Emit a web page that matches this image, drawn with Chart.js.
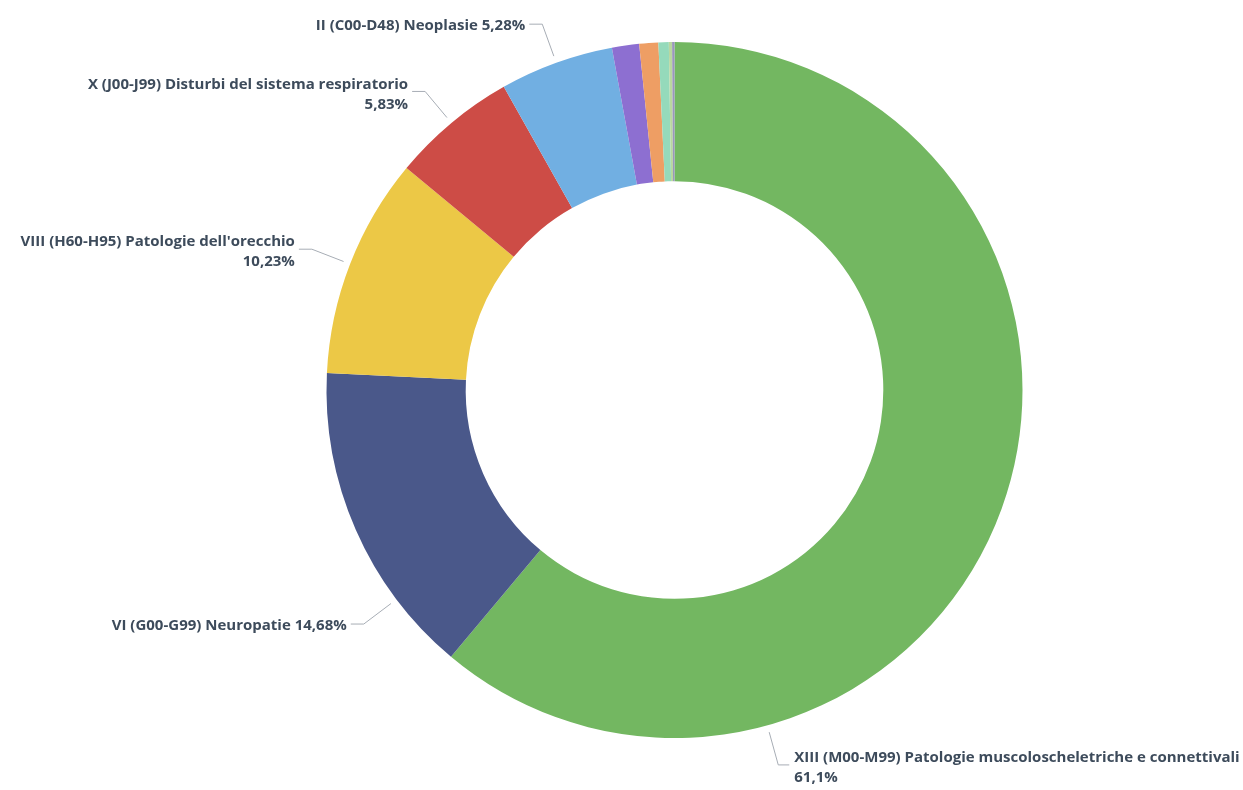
<!DOCTYPE html>
<html>
<head>
<meta charset="utf-8">
<script src="https://cdn.jsdelivr.net/npm/chart.js@4/dist/chart.umd.min.js"></script>
<style>
  html, body { margin: 0; padding: 0; background: #ffffff; }
  #wrap { width: 1243px; height: 790px; position: relative; }
</style>
</head>
<body>
<div id="wrap"><canvas id="c" width="1243" height="790"></canvas></div>
<script>
// ---- Data ----
const categories = [
  "XIII (M00-M99) Patologie muscoloscheletriche e connettivali",
  "VI (G00-G99) Neuropatie",
  "VIII (H60-H95) Patologie dell'orecchio",
  "X (J00-J99) Disturbi del sistema respiratorio",
  "II (C00-D48) Neoplasie",
  "IX (I00-I99) Malattie del sistema circolatorio",
  "XIX (S00-T98) Traumatismi",
  "V (F00-F99) Disturbi psichici",
  "XII (L00-L99) Malattie della pelle",
  "Altro"
];
const values = [61.1, 14.68, 10.23, 5.83, 5.28, 1.26, 0.88, 0.48, 0.15, 0.11];
const colors = ["#73b761", "#4a588a", "#ecc846", "#cd4c46", "#71afe2", "#8d6fd1", "#ee9e64", "#95dabb", "#b9d7a0", "#9a96bc"];
// where along each slice the leader line attaches (fraction of the slice's angle)
const labelAnchor = [0.748, 0.247, 0.5, 0.5, 0.5];

function fmtPct(v) { return String(v).replace('.', ',') + '%'; }

const leaderPlugin = {
  id: 'leaderLabels',
  afterDatasetsDraw(chart) {
    const ctx = chart.ctx;
    const arcs = chart.getDatasetMeta(0).data;
    ctx.save();
    ctx.font = '700 15px "Open Sans", "Segoe UI", sans-serif';
    arcs.forEach((arc, i) => {
      if (values[i] < 5) return;
      const p = arc.getProps(['x', 'y', 'startAngle', 'endAngle', 'outerRadius'], true);
      const f = labelAnchor[i] !== undefined ? labelAnchor[i] : 0.5;
      const a = p.startAngle + (p.endAngle - p.startAngle) * f;
      const r0 = p.outerRadius + 7, r1 = p.outerRadius + 41;
      const x0 = p.x + Math.cos(a) * r0, y0 = p.y + Math.sin(a) * r0;
      const x1 = p.x + Math.cos(a) * r1, y1 = p.y + Math.sin(a) * r1;
      const right = Math.cos(a) >= 0;
      const x2 = x1 + (right ? 11 : -13);
      ctx.strokeStyle = '#a7adb5';
      ctx.lineWidth = 1;
      ctx.beginPath();
      ctx.moveTo(x0, y0);
      ctx.lineTo(x1, y1);
      ctx.lineTo(x2, y1);
      ctx.stroke();

      const name = categories[i], pct = fmtPct(values[i]);
      const single = name + ' ' + pct;
      let lines;
      if (ctx.measureText(single).width > 300) lines = [name, pct];
      else lines = [single];
      ctx.fillStyle = '#3d4b5b';
      ctx.textBaseline = 'middle';
      ctx.textAlign = right ? 'left' : 'right';
      const tx = right ? x2 + 5 : x2 - 4;
      if (lines.length === 1) {
        ctx.fillText(lines[0], tx, y1 + 2);
      } else {
        ctx.fillText(lines[0], tx, y1 - 7);
        ctx.fillText(lines[1], tx, y1 + 13);
      }
    });
    ctx.restore();
  }
};

new Chart(document.getElementById('c'), {
  type: 'doughnut',
  data: {
    labels: categories,
    datasets: [{
      data: values,
      backgroundColor: colors,
      borderWidth: 0
    }]
  },
  options: {
    responsive: false,
    animation: false,
    cutout: '60%',
    layout: { padding: { top: 42, bottom: 52, left: 300, right: 194 } },
    plugins: {
      legend: { display: false },
      tooltip: { enabled: false }
    }
  },
  plugins: [leaderPlugin]
});
</script>
</body>
</html>
